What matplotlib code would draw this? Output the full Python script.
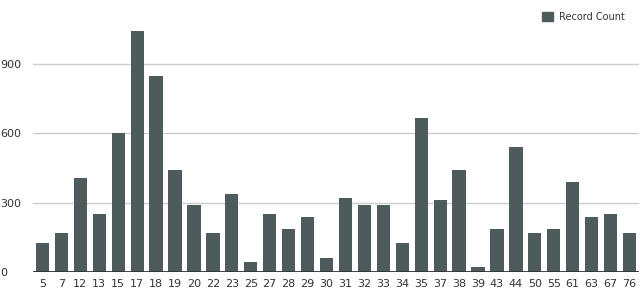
import matplotlib.pyplot as plt
from matplotlib.patches import Patch

# categories and counts
ages = ['5', '7', '12', '13', '15', '17', '18', '19', '20', '22', '23', '25', '27', '28', '29', '30',
        '31', '32', '33', '34', '35', '37', '38', '39', '43', '44', '50', '55', '61', '63', '67', '76']
counts = [127, 170, 405, 250, 600, 1045, 850, 443, 290, 169, 336, 45, 251, 185, 238, 62,
          320, 290, 290, 127, 665, 310, 442, 20, 185, 539, 169, 185, 388, 238, 251, 169]
yticks = [0, 300, 600, 900]

bar_color = '#4d5b5c'

fig = plt.figure(figsize=(6.4, 2.88), dpi=100)
ax = fig.add_axes([33 / 640, 16 / 288, 606 / 640, 272 / 288])

x = list(range(len(ages)))
ax.bar(x, counts, width=0.7, color=bar_color, zorder=3)

ax.set_xlim(-0.5, len(ages) - 0.5)
ax.set_ylim(0, 1177)
ax.set_yticks(yticks)
ax.set_yticklabels([str(t) for t in yticks])
ax.set_xticks(x)
ax.set_xticklabels(ages)

ax.grid(axis='y', color='#cccccc', linewidth=1, zorder=0)
ax.axhline(0, color='#333333', linewidth=2, zorder=4)
for s in ax.spines.values():
    s.set_visible(False)
ax.tick_params(axis='both', length=0, labelsize=8, colors='#333333')
ax.tick_params(axis='x', pad=5)
for lab in ax.get_yticklabels():
    lab.set_horizontalalignment('left')
    lab.set_x(-33 / 606)
ax.tick_params(axis='y', pad=0)

leg = fig.legend(handles=[Patch(color=bar_color, label='Record Count')],
                 loc='upper right', bbox_to_anchor=(0.99, 0.99), frameon=False,
                 fontsize=7, handlelength=1.1, handleheight=1.1, handletextpad=0.6)
for t in leg.get_texts():
    t.set_color('#333333')

fig.savefig('out.png', dpi=100)
